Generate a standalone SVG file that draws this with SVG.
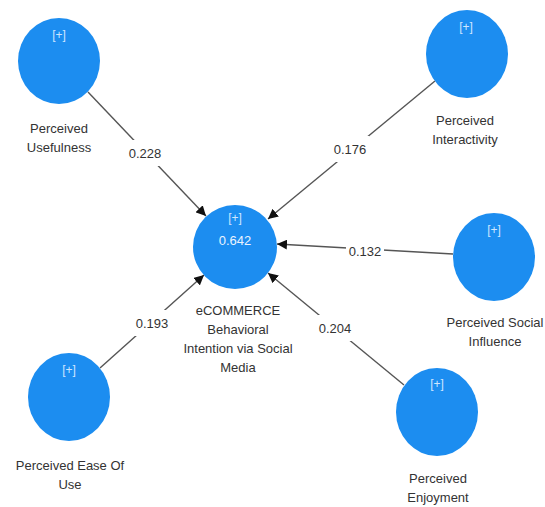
<svg xmlns="http://www.w3.org/2000/svg" width="545" height="507" viewBox="0 0 545 507">
<style>
.c{fill:#1c8df0;}
.t{font-family:"Liberation Sans",Arial,sans-serif;font-size:13px;fill:#333;text-anchor:middle;}
.p{font-family:"Liberation Sans",Arial,sans-serif;font-size:12px;fill:#cfe6ff;text-anchor:middle;}
.v{font-family:"Liberation Sans",Arial,sans-serif;font-size:13px;fill:#eaf4ff;text-anchor:middle;}
.e{stroke:#555;stroke-width:1.4;fill:none;marker-end:url(#ah);}
.bg{fill:#fff;}
</style>
<defs>
<marker id="ah" viewBox="0 0 10 10" refX="10" refY="5" markerWidth="10" markerHeight="10" markerUnits="userSpaceOnUse" orient="auto">
<path d="M0,0 L10,5 L0,10 z" fill="#111"/>
</marker>
</defs>
<rect width="545" height="507" fill="#fff"/>
<g id="connectors">
<line class="e" x1="88" y1="92" x2="206" y2="216"/>
<rect class="bg" x="126" y="140" width="38" height="26"/>
<text class="t" x="145" y="158">0.228</text>
<line class="e" x1="435" y1="81" x2="268" y2="219"/>
<rect class="bg" x="331" y="136" width="38" height="26"/>
<text class="t" x="350" y="154">0.176</text>
<line class="e" x1="453" y1="254" x2="277" y2="244"/>
<rect class="bg" x="346" y="239" width="38" height="24"/>
<text class="t" x="365" y="256">0.132</text>
<line class="e" x1="404" y1="385" x2="268" y2="273"/>
<rect class="bg" x="316" y="315" width="38" height="26"/>
<text class="t" x="335" y="333">0.204</text>
<line class="e" x1="100" y1="368" x2="204" y2="275"/>
<rect class="bg" x="133" y="310" width="38" height="26"/>
<text class="t" x="152" y="328">0.193</text>
</g>
<g id="center">
<ellipse class="c" cx="235" cy="247" rx="42" ry="42"/>
<text class="p" x="235" y="222">[+]</text>
<text class="v" x="235" y="245">0.642</text>
<text class="t" x="238" y="315">eCOMMERCE</text>
<text class="t" x="238" y="334">Behavioral</text>
<text class="t" x="238" y="353">Intention via Social</text>
<text class="t" x="238" y="372">Media</text>
</g>
<g id="usefulness">
<ellipse class="c" cx="59" cy="61" rx="41" ry="43"/>
<text class="p" x="59" y="39">[+]</text>
<text class="t" x="59" y="133">Perceived</text>
<text class="t" x="59" y="152">Usefulness</text>
</g>
<g id="interactivity">
<ellipse class="c" cx="467" cy="54" rx="41" ry="44"/>
<text class="p" x="466" y="31">[+]</text>
<text class="t" x="465" y="125">Perceived</text>
<text class="t" x="465" y="144">Interactivity</text>
</g>
<g id="social">
<ellipse class="c" cx="494" cy="257" rx="41" ry="44"/>
<text class="p" x="494" y="234">[+]</text>
<text class="t" x="495" y="327">Perceived Social</text>
<text class="t" x="495" y="346">Influence</text>
</g>
<g id="enjoyment">
<ellipse class="c" cx="437" cy="412" rx="41" ry="44"/>
<text class="p" x="437" y="388">[+]</text>
<text class="t" x="438" y="483">Perceived</text>
<text class="t" x="438" y="502">Enjoyment</text>
</g>
<g id="ease">
<ellipse class="c" cx="69" cy="397" rx="41" ry="44"/>
<text class="p" x="69" y="374">[+]</text>
<text class="t" x="70" y="470">Perceived Ease Of</text>
<text class="t" x="70" y="489">Use</text>
</g>
</svg>
